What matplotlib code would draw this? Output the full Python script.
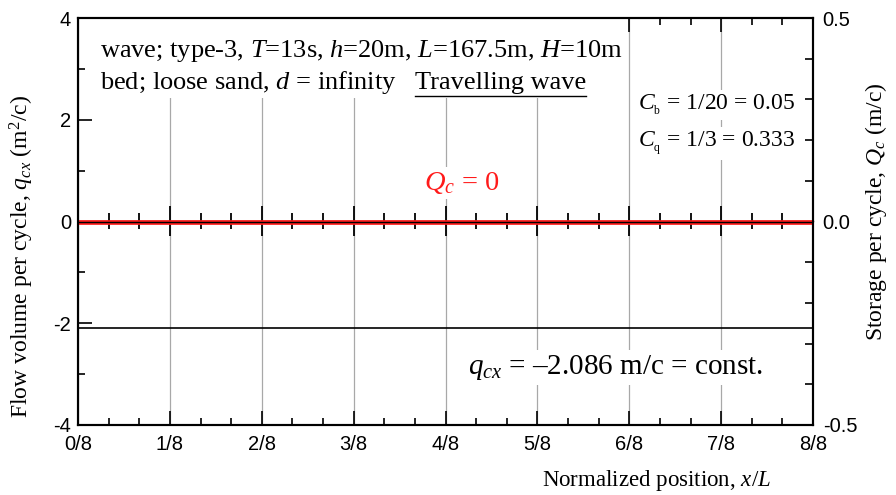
import matplotlib
matplotlib.use("Agg")
import matplotlib.pyplot as plt
from matplotlib.ticker import MultipleLocator
from matplotlib.lines import Line2D
from matplotlib.patches import Rectangle
from matplotlib.transforms import IdentityTransform

plt.rcParams["axes.unicode_minus"] = False
plt.rcParams["mathtext.fontset"] = "custom"
plt.rcParams["mathtext.rm"] = "Liberation Serif"
plt.rcParams["mathtext.it"] = "Liberation Serif:italic"
plt.rcParams["mathtext.bf"] = "Liberation Serif:bold"

# Data
x_pos = [0.0, 1.0]               # normalized position x/L
q_cx = [-2.086, -2.086]          # flow volume per cycle (m^2/c)
Q_c = [0.0, 0.0]                 # storage per cycle (m/c)
x_ticks = [k / 8 for k in range(9)]
x_labels = [f"{k}/8" for k in range(9)]
left_ticks = [-4, -2, 0, 2, 4]
right_ticks = [-0.5, 0.0, 0.5]
right_labels = ["-0.5", "0.0", "0.5"]

SANS = "Liberation Sans"
SERIF = "Liberation Serif"
TICK_FS = 14.5

W, H = 896, 495
fig = plt.figure(figsize=(W / 100, H / 100), dpi=100)
L, R, T, B = 78, 813, 18, 425
ax = fig.add_axes([L / W, 1 - B / H, (R - L) / W, (B - T) / H])

ax.set_xlim(0, 1)
ax.set_ylim(-4, 4)
ax.set_xticks(x_ticks)
ax.set_xticklabels(x_labels, fontfamily=SANS, fontsize=TICK_FS)
ax.xaxis.set_minor_locator(MultipleLocator(1 / 24))
ax.set_yticks(left_ticks)
ax.set_yticklabels([str(v) for v in left_ticks], fontfamily=SANS, fontsize=TICK_FS)
ax.yaxis.set_minor_locator(MultipleLocator(1))
ax.tick_params(axis="both", which="major", direction="in", length=10, width=1.2,
               top=True, pad=7)
ax.tick_params(axis="both", which="minor", direction="in", length=5, width=1.2,
               top=True)
ax.tick_params(axis="y", which="both", right=False, pad=5)
for s in ax.spines.values():
    s.set_linewidth(1.5)
ax.grid(axis="x", which="major", color="#a8a8a8", linewidth=0.9)
ax.set_axisbelow(True)

# constant flow volume line
ax.plot(x_pos, q_cx, color="black", linewidth=1.2, zorder=3)

# right axis: storage
ax2 = ax.twinx()
ax2.set_ylim(-0.5, 0.5)
ax2.set_yticks(right_ticks)
ax2.set_yticklabels(right_labels, fontfamily=SANS, fontsize=TICK_FS)
ax2.yaxis.set_minor_locator(MultipleLocator(0.1))
ax2.tick_params(axis="y", which="both", direction="in", length=6, width=1.2, pad=7)
for s in ax2.spines.values():
    s.set_linewidth(1.5)
ax2.plot(x_pos, Q_c, color="#ff1a1a", linewidth=3.4, zorder=2, solid_capstyle="butt")
ax2.plot(x_pos, Q_c, color="black", linewidth=1.0, zorder=3, solid_capstyle="butt")

# tick marks along the zero line
zax = ax2.secondary_xaxis(0.5)
zax.set_xticks(x_ticks)
zax.set_xticklabels([])
zax.xaxis.set_minor_locator(MultipleLocator(1 / 24))
zax.tick_params(which="major", direction="inout", length=22, width=1.3)
zax.tick_params(which="minor", direction="inout", length=12, width=1.3)
zax.spines["bottom"].set_linewidth(1.0)
zax.spines["top"].set_linewidth(1.0)

# axis labels
fig.text(22 / W, 1 - 256 / H, r"Flow volume per cycle, $q_{cx}$ (m$^2$/c)",
         rotation=90, ha="center", va="center", fontfamily=SERIF, fontsize=17)
fig.text(876 / W, 1 - 212 / H, r"Storage per cycle, $Q_c$ (m/c)",
         rotation=90, ha="center", va="center", fontfamily=SERIF, fontsize=17)
fig.text(656 / W, 1 - 486 / H, r"Normalized position, $x/L$",
         ha="center", va="baseline", fontfamily=SERIF, fontsize=16.5)

# condition notes
t1 = fig.text(100 / W, 1 - 57 / H,
              r"wave; type-3, $T$=13s, $h$=20m, $L$=167.5m, $H$=10m",
              ha="left", va="baseline", fontfamily=SERIF, fontsize=19, zorder=5)
t2 = fig.text(100 / W, 1 - 89 / H, r"bed; loose sand, $d$ = infinity",
              ha="left", va="baseline", fontfamily=SERIF, fontsize=19, zorder=5)
tw = fig.text(415 / W, 1 - 89 / H, "Travelling wave",
              ha="left", va="baseline", fontfamily=SERIF, fontsize=19, zorder=5)

box = dict(facecolor="white", edgecolor="none", pad=2)
fig.text(638 / W, 1 - 109.5 / H, r"$C_{_\mathrm{b}}$ = 1/20 = 0.05",
         ha="left", va="baseline", fontfamily=SERIF, fontsize=17, bbox=box, zorder=5)
fig.text(638 / W, 1 - 147 / H, r"$C_{_\mathrm{q}}$ = 1/3 = 0.333",
         ha="left", va="baseline", fontfamily=SERIF, fontsize=17, bbox=box, zorder=5)

fig.text(424 / W, 1 - 190 / H, r"$Q_c$ = 0", color="#ff1a1a",
         ha="left", va="baseline", fontfamily=SERIF, fontsize=20.5, bbox=box, zorder=5)
fig.text(468 / W, 1 - 374 / H, r"$q_{cx}$ = –2.086 m/c = const.",
         ha="left", va="baseline", fontfamily=SERIF, fontsize=21, bbox=box, zorder=5)

# white backing behind the notes and underline for the wave label
fig.canvas.draw()
rend = fig.canvas.get_renderer()
b1 = t1.get_window_extent(rend)
b2 = t2.get_window_extent(rend)
bw = tw.get_window_extent(rend)
x0 = min(b1.x0, b2.x0) - 4
x1 = max(b1.x1, bw.x1) + 4
y0 = H - 98
y1 = H - T
ax.add_patch(Rectangle((x0, y0), x1 - x0, y1 - y0, transform=IdentityTransform(),
                       facecolor="white", edgecolor="none", zorder=1.5))
uy = 1 - 96 / H
fig.add_artist(Line2D([bw.x0 / W, bw.x1 / W], [uy, uy], color="black",
                      linewidth=1.0, zorder=6))

fig.savefig("out.png", dpi=100)
